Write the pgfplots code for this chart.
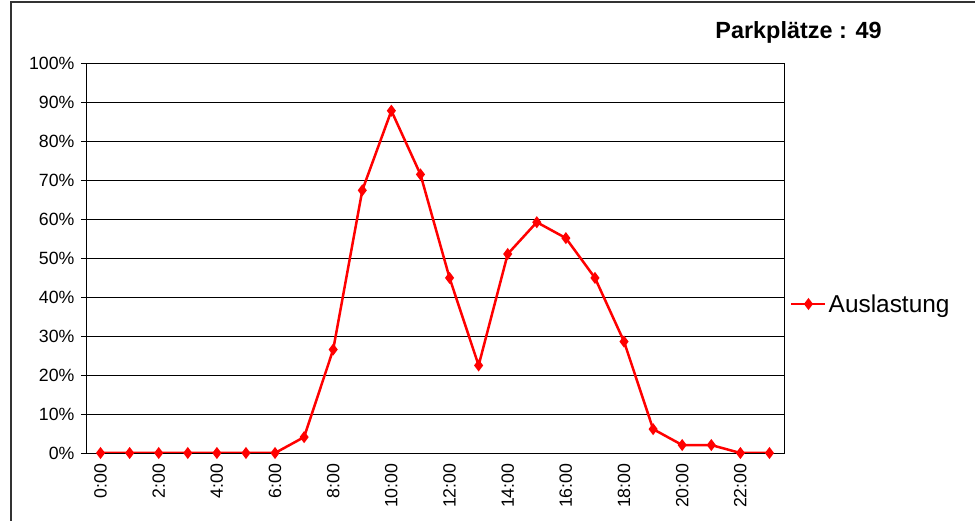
\documentclass[border=0pt]{standalone}
\usepackage{fontspec}
\setmainfont{Liberation Sans}
\usepackage{pgfplots}
\pgfplotsset{compat=1.18}
\begin{document}
\begin{tikzpicture}
\useasboundingbox (0,0) rectangle (975bp,521bp);
\draw[line width=1.2bp, black!80] (11bp,-2bp) -- (11bp,519bp) -- (978bp,519bp);
\begin{axis}[
  at={(86bp,68bp)}, anchor=south west,
  scale only axis, width=698bp, height=390bp,
  xmin=-0.5, xmax=23.5, ymin=0, ymax=100,
  axis line style={black, line width=0.9bp},
  tick pos=left,
  ytick={0,10,...,100},
  yticklabels={0\%,10\%,20\%,30\%,40\%,50\%,60\%,70\%,80\%,90\%,100\%},
  ymajorgrids, grid style={black, line width=0.8bp},
  xtick={0,2,...,22},
  xticklabels={0:00,2:00,4:00,6:00,8:00,10:00,12:00,14:00,16:00,18:00,20:00,22:00},
  minor xtick={-0.5,0.5,...,23.5},
  tick align=outside,
  xtick style={draw=none},
  minor tick length=5bp,
  major tick length=5bp,
  ytick style={black, line width=0.8bp},
  minor tick style={black, line width=0.8bp},
  xticklabel style={rotate=90, anchor=east, yshift=0bp, xshift=-2bp},
  yticklabel style={xshift=-3bp},
  ticklabel style={font=\fontsize{17.8}{20}\selectfont},
  /pgf/number format/assume math mode=true,
  legend style={at={(1.0086,0.382)}, anchor=west, draw=none, fill=none,
    font=\fontsize{24.5}{28}\selectfont, inner sep=0pt},
  legend cell align=left,
  legend image code/.code={\draw[mark repeat=2,mark phase=2] plot coordinates {(0cm,0cm) (0.6cm,0cm) (1.2cm,0cm)};},
]
\addplot[red, line width=2.5bp, mark=diamond*, mark size=4bp, mark options={solid, fill=red}]
  table {
x y
0 0
1 0
2 0
3 0
4 0
5 0
6 0
7 4.08
8 26.53
9 67.35
10 87.76
11 71.43
12 44.90
13 22.45
14 51.02
15 59.18
16 55.10
17 44.90
18 28.57
19 6.12
20 2.04
21 2.04
22 0
23 0
};
\addlegendentry{Auslastung}
\end{axis}
\node[font=\fontsize{23.5}{27}\selectfont\bfseries] at (798.5bp,489bp) {Parkplätze : 49};
\end{tikzpicture}
\end{document}
